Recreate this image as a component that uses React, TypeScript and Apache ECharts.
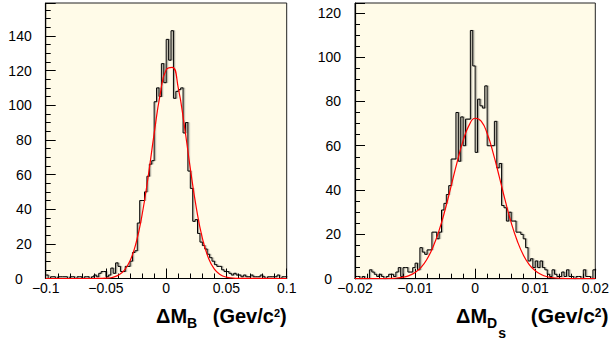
import React, { useEffect, useRef } from "react";
import * as echarts from "echarts";

// ---- Data ----
// Left panel: Delta M_B histogram, 100 bins over [-0.1, 0.1]
const rangeB = [-0.1, 0.1];
const binsB = [
  2, 0, 1, 1, 0, 1, 1, 1, 1, 0, 1, 1, 0, 1, 1, 0, 1, 1, 0, 1,
  2, 1, 3, 4, 4, 1, 2, 6, 3, 9, 7, 4, 4, 7, 7, 10, 15, 16, 32, 45,
  45, 50, 59, 66, 68, 102, 110, 105, 124, 113, 138, 126, 143, 104, 108, 109, 110, 84, 90, 62,
  52, 33, 34, 26, 21, 19, 17, 14, 12, 10, 8, 7, 7, 5, 4, 4, 3, 2, 3, 2,
  2, 1, 2, 1, 1, 2, 1, 1, 1, 2, 1, 0, 1, 1, 1, 1, 2, 0, 1, 1,
];
const fitBx = [
  -0.1, -0.06, -0.055, -0.05, -0.045, -0.04, -0.035, -0.03, -0.025, -0.02, -0.015, -0.01, -0.005,
  0, 0.005, 0.01, 0.015, 0.02, 0.025, 0.03, 0.035, 0.04, 0.045, 0.05, 0.055, 0.06, 0.1,
];
const fitBy = [
  0, 0, 0.1, 0.2, 0.6, 1.8, 4.5, 10.2, 20.5, 36.8, 58.7, 83.6, 106.3,
  120.5, 121.9, 110, 88.5, 63.6, 40.8, 23.3, 11.9, 5.4, 2.2, 0.8, 0.3, 0.1, 0,
];
const yMaxB = 159;

// Right panel: Delta M_Ds histogram, 100 bins over [-0.02, 0.02]
const rangeDs = [-0.02, 0.02];
const binsDs = [
  1, 1, 0, 1, 0, 0, 4, 3, 2, 1, 2, 1, 0, 1, 2, 2, 1, 3, 5, 1,
  5, 5, 3, 3, 5, 7, 4, 14, 12, 11, 13, 13, 21, 21, 18, 21, 31, 34, 38, 42,
  54, 54, 75, 53, 73, 60, 72, 72, 112, 96, 57, 81, 78, 77, 87, 60, 60, 60, 71, 50,
  52, 33, 32, 26, 30, 26, 26, 21, 21, 20, 18, 14, 8, 9, 5, 8, 5, 8, 5, 4,
  2, 1, 4, 2, 1, 1, 3, 1, 4, 1, 1, 0, 1, 1, 0, 4, 1, 1, 0, 4,
];
const fitDsx = [
  -0.02, -0.016, -0.015, -0.014, -0.013, -0.012, -0.011, -0.01, -0.009, -0.008, -0.007, -0.006,
  -0.005, -0.004, -0.003, -0.002, -0.001, 0, 0.001, 0.002, 0.003, 0.004, 0.005, 0.006, 0.007,
  0.008, 0.009, 0.01, 0.011, 0.012, 0.013, 0.014, 0.015, 0.016, 0.02,
];
const fitDsy = [
  0, 0, 0.05, 0.13, 0.31, 0.7, 1.4, 2.8, 5.1, 8.9, 14.4, 21.8,
  31.1, 41.8, 52.6, 62.3, 69.3, 72.4, 71.1, 65.5, 56.7, 46.2, 35.3, 25.3, 17.1,
  10.8, 6.4, 3.6, 1.9, 0.9, 0.43, 0.2, 0.08, 0, 0,
];
const yMaxDs = 124.4;

const yTickStep = 20;
const xTickStepB = 0.05;
const xTickStepDs = 0.01;

// ---- helpers ----
function histPoints(bins: number[], lo: number, hi: number) {
  const w = (hi - lo) / bins.length;
  const pts: number[][] = bins.map((v, i) => [lo + i * w, v]);
  pts.push([hi, bins[bins.length - 1]]);
  return pts;
}
function pairs(xs: number[], ys: number[]) {
  return xs.map((x, i) => [x, ys[i]]);
}
function fmt(v: number) {
  const s = parseFloat(v.toFixed(4)).toString();
  return s.replace("-", "\u2212");
}

const FONT = '"Liberation Sans", Arial, Helvetica, sans-serif';

function measure(text: string, size: number) {
  const c = document.createElement("canvas").getContext("2d");
  if (!c) return text.length * size * 0.55;
  c.font = `bold ${size}px ${FONT}`;
  return c.measureText(text).width;
}

export default function App() {
  const ref = useRef<HTMLDivElement>(null);
  useEffect(() => {
    if (!ref.current) return;
    const chart = echarts.init(ref.current, undefined, { renderer: "svg" });

    const grids = [
      { left: 45.7, top: 3, width: 241, height: 275.5 },
      { left: 355, top: 3, width: 240.3, height: 275.7 },
    ];

    const xAxis = (idx: number, lo: number, hi: number, step: number) => ({
      type: "value",
      gridIndex: idx,
      min: lo,
      max: hi,
      interval: step,
      axisLine: { show: true, onZero: false, lineStyle: { color: "#000", width: 1.2 } },
      axisTick: { show: true, inside: true, length: 10, lineStyle: { color: "#000", width: 1 } },
      minorTick: { show: true, splitNumber: 5, length: 5, lineStyle: { color: "#000", width: 1 } },
      splitLine: { show: false },
      axisLabel: {
        margin: 2,
        fontSize: 14,
        fontFamily: FONT,
        color: "#000",
        formatter: (v: number) => fmt(v),
      },
    });
    const yAxis = (idx: number, max: number) => ({
      type: "value",
      gridIndex: idx,
      min: 0,
      max,
      interval: yTickStep,
      axisLine: { show: true, onZero: false, lineStyle: { color: "#000", width: 1.2 } },
      axisTick: { show: true, inside: true, length: 10, lineStyle: { color: "#000", width: 1 } },
      minorTick: { show: true, splitNumber: 4, length: 5, lineStyle: { color: "#000", width: 1 } },
      splitLine: { show: false },
      axisLabel: {
        margin: 14,
        fontSize: 14,
        fontFamily: FONT,
        color: "#000",
        showMaxLabel: false,
        formatter: (v: number) => (Math.abs(v) < 1e-9 ? "{z|0}" : fmt(v)),
        rich: {
          z: { fontSize: 14, fontFamily: FONT, color: "#000", padding: [0, 9, 0, 0] },
        },
      },
    });

    const histStyle = {
      color: "#000",
      width: 1.0,
      shadowColor: "rgba(0,0,0,0.4)",
      shadowOffsetX: 1.2,
      shadowOffsetY: 0,
      shadowBlur: 0,
    };

    // ---- axis titles ----
    const big = 20;
    const sub = 14;
    const sup = 11;
    const mid = (baseline: number, size: number) => baseline - 0.35 * size;
    const txt = (text: string, x: number, baseline: number, size: number) => ({
      type: "text",
      x,
      y: mid(baseline, size),
      silent: true,
      style: {
        text,
        fill: "#000",
        fontSize: size,
        fontWeight: "bold",
        fontFamily: FONT,
        align: "left",
        verticalAlign: "middle",
      },
    });
    const mainBase = 323.3;
    const subBase = 328.3;
    const subSubBase = 338.3;
    const supBase = 317.3;

    function unitGroup(rightX: number, size: number, supSize: number) {
      // "(Gev/c" + superscript "2" + ")" right-aligned ending at rightX
      const wClose = measure(")", size);
      const w2 = measure("2", supSize);
      const wMain = measure("(Gev/c", size);
      const xClose = rightX - wClose;
      const x2 = xClose - w2;
      const xMain = x2 - wMain;
      return [
        txt("(Gev/c", xMain, mainBase, size),
        txt("2", x2, supBase, supSize),
        txt(")", xClose, mainBase, size),
      ];
    }

    const wDM = measure("\u0394M", big);
    const leftTitleX = 156;
    const rightTitleX = 456;
    const wD = measure("D", sub);

    const graphic = [
      txt("\u0394M", leftTitleX, mainBase, big),
      txt("B", leftTitleX + wDM, subBase, sub),
      ...unitGroup(286.7, big, sup),
      txt("\u0394M", rightTitleX, mainBase, big),
      txt("D", rightTitleX + wDM, subBase, sub),
      txt("s", rightTitleX + wDM + wD + 1, subSubBase, sub),
      ...unitGroup(608.5, 21, 12),
    ];

    chart.setOption({
      animation: false,
      backgroundColor: "#ffffff",
      grid: grids.map((g) => ({
        ...g,
        show: true,
        backgroundColor: "#fffbe8",
        borderColor: "#222",
        borderWidth: 1,
        containLabel: false,
      })),
      xAxis: [
        xAxis(0, rangeB[0], rangeB[1], xTickStepB),
        xAxis(1, rangeDs[0], rangeDs[1], xTickStepDs),
      ],
      yAxis: [yAxis(0, yMaxB), yAxis(1, yMaxDs)],
      series: [
        {
          type: "line",
          xAxisIndex: 0,
          yAxisIndex: 0,
          data: histPoints(binsB, rangeB[0], rangeB[1]),
          step: "end",
          symbol: "none",
          lineStyle: histStyle,
          silent: true,
          z: 2,
        },
        {
          type: "line",
          xAxisIndex: 0,
          yAxisIndex: 0,
          data: pairs(fitBx, fitBy),
          smooth: 0.5,
          symbol: "none",
          lineStyle: { color: "#ff0000", width: 1.2 },
          silent: true,
          z: 3,
        },
        {
          type: "line",
          xAxisIndex: 1,
          yAxisIndex: 1,
          data: histPoints(binsDs, rangeDs[0], rangeDs[1]),
          step: "end",
          symbol: "none",
          lineStyle: histStyle,
          silent: true,
          z: 2,
        },
        {
          type: "line",
          xAxisIndex: 1,
          yAxisIndex: 1,
          data: pairs(fitDsx, fitDsy),
          smooth: 0.5,
          symbol: "none",
          lineStyle: { color: "#ff0000", width: 1.2 },
          silent: true,
          z: 3,
        },
      ],
      graphic,
    });

    return () => chart.dispose();
  }, []);

  return (
    <div
      ref={ref}
      style={{ position: "fixed", left: 0, top: 0, width: 612, height: 340, background: "#fff" }}
    />
  );
}
